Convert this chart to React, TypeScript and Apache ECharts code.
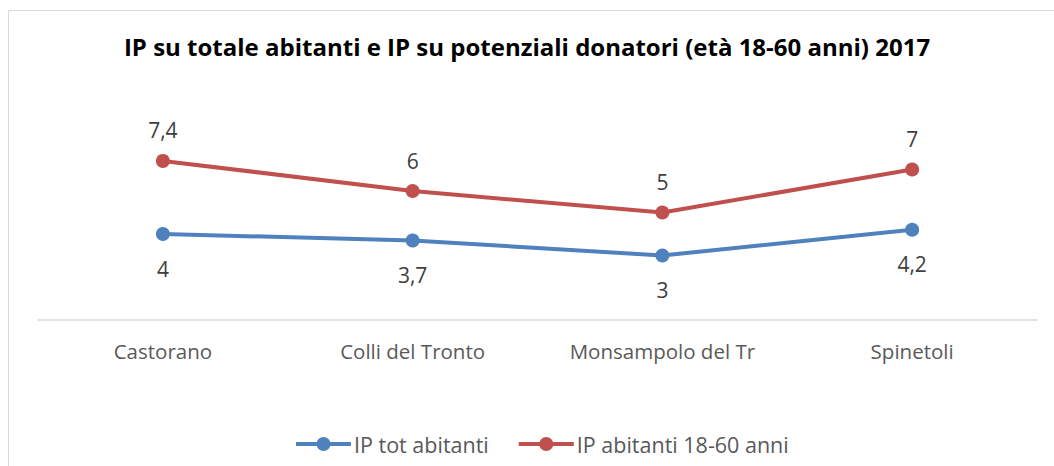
import React, { useEffect, useRef } from "react";
import * as echarts from "echarts";

const categories = ["Castorano", "Colli del Tronto", "Monsampolo del Tr", "Spinetoli"];
const ipTotAbitanti = [4, 3.7, 3, 4.2];
const ipAbitanti1860 = [7.4, 6, 5, 7];
const seriesNames = ["IP tot abitanti", "IP abitanti 18-60 anni"];
const titleText = "IP su totale abitanti e IP su potenziali donatori (età 18-60 anni) 2017";

const FONT = "'Open Sans', sans-serif";
const fmt = (p: any) => String(p.value).replace(".", ",");
const legendIcon =
  "path://M0,5 L55,5 L55,9 L0,9 Z M20.5,7 A7,7 0 1,1 34.5,7 A7,7 0 1,1 20.5,7 Z";

export default function App() {
  const ref = useRef<HTMLDivElement>(null);
  useEffect(() => {
    if (!ref.current) return;
    const chart = echarts.init(ref.current, undefined, { renderer: "svg" });
    chart.setOption({
      animation: false,
      backgroundColor: "#ffffff",
      textStyle: { fontFamily: FONT },
      title: {
        text: titleText,
        left: "center",
        top: 29,
        textStyle: { fontFamily: FONT, fontWeight: "bold", fontSize: 24, color: "#000000" },
      },
      graphic: [
        {
          type: "rect",
          shape: { x: 8.5, y: 10.5, width: 1100, height: 500 },
          style: { fill: "none", stroke: "#d9d9d9", lineWidth: 1 },
          silent: true,
        },
      ],
      legend: {
        left: 291,
        top: 428,
        itemWidth: 55,
        itemHeight: 14,
        itemGap: 30,
        icon: legendIcon,
        textStyle: { fontFamily: FONT, fontSize: 21.5, color: "#595959", padding: [0, 0, 0, -2] },
        data: seriesNames,
      },
      grid: { left: 38, right: 17, top: 148, bottom: 146 },
      xAxis: {
        type: "category",
        data: categories,
        boundaryGap: true,
        axisLine: { lineStyle: { color: "#d9d9d9", width: 1.5 } },
        axisTick: { show: false },
        axisLabel: { fontFamily: FONT, fontSize: 20.5, color: "#595959", margin: 20 },
      },
      yAxis: {
        type: "value",
        min: 0,
        max: 8,
        interval: 2,
        show: false,
        splitLine: { show: false },
      },
      series: [
        {
          name: seriesNames[0],
          type: "line",
          data: ipTotAbitanti,
          color: "#4f81bd",
          symbol: "circle",
          symbolSize: 14,
          lineStyle: { width: 4, color: "#4f81bd" },
          itemStyle: { color: "#4f81bd" },
          label: {
            show: true,
            position: "bottom",
            distance: 17,
            formatter: fmt,
            fontFamily: FONT,
            fontSize: 21,
            color: "#404040",
          },
        },
        {
          name: seriesNames[1],
          type: "line",
          data: ipAbitanti1860,
          color: "#c0504d",
          symbol: "circle",
          symbolSize: 14,
          lineStyle: { width: 4, color: "#c0504d" },
          itemStyle: { color: "#c0504d" },
          label: {
            show: true,
            position: "top",
            distance: 13,
            formatter: fmt,
            fontFamily: FONT,
            fontSize: 21,
            color: "#404040",
          },
        },
      ],
    });
    return () => chart.dispose();
  }, []);
  return (
    <div
      ref={ref}
      style={{ position: "fixed", left: 0, top: 0, width: 1054, height: 466 }}
    />
  );
}
